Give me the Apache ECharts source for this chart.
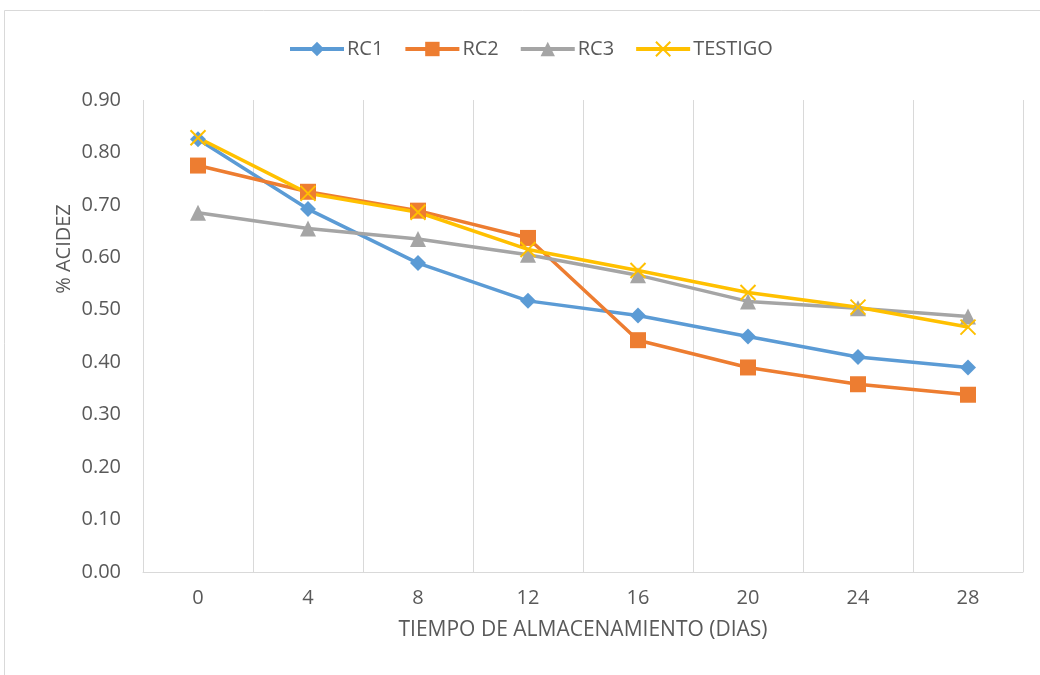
<!DOCTYPE html>
<html><head><meta charset="utf-8">
<script src="https://cdn.jsdelivr.net/npm/echarts@6/dist/echarts.min.js"></script>
<style>html,body{margin:0;padding:0;background:#fff}#c{width:1040px;height:675px}</style>
</head><body><div id="c"></div>
<script>
const days = ['0','4','8','12','16','20','24','28'];
const rc1 = [0.825, 0.692, 0.589, 0.517, 0.489, 0.449, 0.410, 0.390];
const rc2 = [0.775, 0.725, 0.689, 0.637, 0.442, 0.390, 0.358, 0.338];
const rc3 = [0.685, 0.655, 0.635, 0.605, 0.566, 0.516, 0.503, 0.487];
const testigo = [0.828, 0.722, 0.686, 0.615, 0.575, 0.533, 0.505, 0.467];
const yTicks = [0, 0.1, 0.2, 0.3, 0.4, 0.5, 0.6, 0.7, 0.8, 0.9];

const FONT = 'Open Sans';
const TXT = '#595959';
function mk(name, data, color, symbol, size, extra) {
  return Object.assign({
    name, type: 'line', data, symbol, symbolSize: size,
    lineStyle: { color, width: 3.5 },
    itemStyle: { color },
    z: 3
  }, extra || {});
}
const chart = echarts.init(document.getElementById('c'));
chart.setOption({
  animation: false,
  backgroundColor: '#fff',
  textStyle: { fontFamily: FONT },
  graphic: [
    { type: 'rect', shape: { x: 4.5, y: 10.5, width: 1060, height: 700 }, style: { fill: 'none', stroke: '#d9d9d9', lineWidth: 1 }, z: -1 },
    { type: 'text', x: 64, y: 249, rotation: Math.PI / 2,
      style: { text: '% ACIDEZ', font: '20px "Open Sans"', fill: TXT, align: 'center', verticalAlign: 'middle' }, silent: true }
  ],
  legend: {
    top: 34, left: 283, itemWidth: 54, itemHeight: 18, itemGap: 20,
    lineStyle: { width: 4 },
    textStyle: { fontSize: 20, color: TXT, fontFamily: FONT, padding: [0, 0, 0, -2] },
    data: ['RC1', 'RC2', 'RC3', 'TESTIGO']
  },
  grid: { left: 143, right: 17, top: 100, bottom: 103, containLabel: false },
  xAxis: {
    type: 'category', data: days, boundaryGap: true,
    name: 'TIEMPO DE ALMACENAMIENTO (DIAS)', nameLocation: 'middle', nameGap: 48,
    nameTextStyle: { fontSize: 21, color: TXT, fontFamily: FONT },
    axisLine: { lineStyle: { color: '#d9d9d9', width: 1 } },
    axisTick: { show: false },
    axisLabel: { fontSize: 20, color: TXT, margin: 16, fontFamily: FONT },
    splitLine: { show: true, lineStyle: { color: '#d9d9d9', width: 1 } }
  },
  yAxis: {
    type: 'value', min: 0, max: 0.9, interval: 0.1,
    axisLine: { show: false }, axisTick: { show: false },
    axisLabel: { fontSize: 20, color: TXT, margin: 22, fontFamily: FONT, formatter: v => v.toFixed(2) },
    splitLine: { show: false }
  },
  series: [
    mk('RC1', rc1, '#5B9BD5', 'diamond', 16),
    mk('RC2', rc2, '#ED7D31', 'rect', 16),
    mk('RC3', rc3, '#A5A5A5', 'triangle', 16),
    mk('TESTIGO', testigo, '#FFC000', 'path://M0,0L10,10M10,0L0,10', 15, {
      itemStyle: { color: '#FFC000', borderColor: '#FFC000', borderWidth: 2 }
    })
  ]
});
</script></body></html>
